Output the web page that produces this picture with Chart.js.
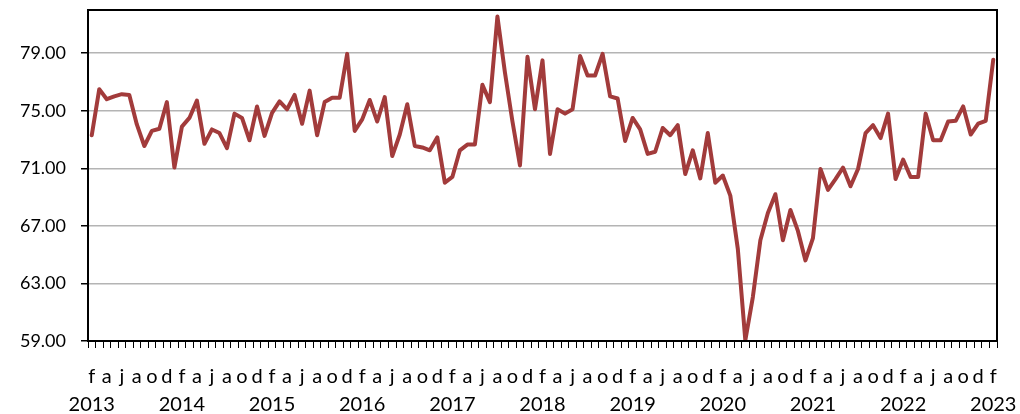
<!DOCTYPE html>
<html>
<head>
<meta charset="utf-8">
<script src="https://cdn.jsdelivr.net/npm/chart.js@4"></script>
<style>
  html, body { margin: 0; padding: 0; background: #fff; }
  #wrap { width: 1020px; height: 414px; }
</style>
</head>
<body>
<div id="wrap"><canvas id="chart" width="1020" height="414"></canvas></div>
<script>
'use strict';

// ---------- data ----------
// monthly series, Feb 2013 .. Feb 2023
const years = [2013, 2014, 2015, 2016, 2017, 2018, 2019, 2020, 2021, 2022, 2023];
const monthInitials = ['j', 'f', 'm', 'a', 'm', 'j', 'j', 'a', 's', 'o', 'n', 'd'];
const labelledMonths = [1, 3, 5, 7, 9, 11]; // f a j a o d
const firstMonth = 1;

const values = [
  73.3, 76.5, 75.8, 76.0, 76.15, 76.1, 74.05, 72.55, 73.6, 73.75, 75.6, 71.05,
  73.9, 74.5, 75.7, 72.7, 73.7, 73.45, 72.4, 74.8, 74.5, 72.95, 75.3, 73.25,
  74.85, 75.65, 75.1, 76.1, 74.1, 76.4, 73.3, 75.6, 75.9, 75.9, 78.95, 73.6,
  74.4, 75.75, 74.25, 75.95, 71.85, 73.35, 75.45, 72.55, 72.45, 72.25, 73.15, 70.0,
  70.4, 72.25, 72.65, 72.65, 76.8, 75.6, 81.55, 77.65, 74.25, 71.2, 78.75, 75.1,
  78.5, 72.0, 75.1, 74.8, 75.1, 78.8, 77.45, 77.45, 78.95, 76.0, 75.85, 72.9,
  74.5, 73.7, 72.0, 72.15, 73.8, 73.3, 74.0, 70.6, 72.25, 70.3, 73.45, 70.0,
  70.5, 69.1, 65.4, 59.05, 62.05, 66.0, 67.9, 69.2, 66.0, 68.1, 66.65, 64.6,
  66.15, 70.95, 69.5, 70.25, 71.05, 69.75, 70.95, 73.45, 74.0, 73.1, 74.8, 70.25,
  71.6, 70.4, 70.4, 74.8, 72.95, 72.95, 74.25, 74.3, 75.3, 73.35, 74.1, 74.3,
  78.55,
];

const yTicks = [59, 63, 67, 71, 75, 79];
const yMin = 59;
const yMax = 82;

// ---------- categories ----------
const labels = values.map((_, i) => {
  const m = (firstMonth + i) % 12;
  const y = years[0] + Math.floor((firstMonth + i) / 12);
  if (!labelledMonths.includes(m)) return '';
  return m === 1 ? [monthInitials[m], String(y)] : monthInitials[m];
});

// ---------- plot-area frame ----------
const frame = {
  id: 'frame',
  afterDraw(chart) {
    const { ctx, chartArea: a } = chart;
    ctx.save();
    ctx.strokeStyle = '#000';
    ctx.lineWidth = 2;
    ctx.strokeRect(a.left, a.top, a.right - a.left, a.bottom - a.top);
    ctx.restore();
  },
};

const FONT = 'Lato, "Open Sans", sans-serif';

new Chart(document.getElementById('chart').getContext('2d'), {
  type: 'line',
  data: {
    labels,
    datasets: [{
      data: values,
      borderColor: '#a23b3b',
      borderWidth: 4,
      pointRadius: 0,
      tension: 0,
      borderJoinStyle: 'round',
      borderCapStyle: 'round',
    }],
  },
  options: {
    responsive: false,
    animation: false,
    events: [],
    layout: { padding: { left: 0, right: 23, top: 10, bottom: 0 } },
    plugins: { legend: { display: false }, tooltip: { enabled: false } },
    scales: {
      x: {
        offset: true,
        grid: { drawOnChartArea: false, drawTicks: true, tickLength: 7, color: '#000', offset: true },
        border: { color: '#000', width: 2 },
        ticks: {
          autoSkip: false, maxRotation: 0, padding: 15, color: '#000',
          font: { family: FONT, size: 20, lineHeight: 1.4 },
        },
        afterFit: (s) => { s.height = 73; s.paddingLeft = 0; s.paddingRight = 0; },
      },
      y: {
        min: yMin, max: yMax,
        afterBuildTicks: (s) => { s.ticks = yTicks.map((v) => ({ value: v })); },
        grid: { color: '#b4b4b4', lineWidth: 1.5, tickLength: 7, tickColor: '#000' },
        border: { color: '#000', width: 2 },
        ticks: {
          color: '#000', padding: 15,
          font: { family: FONT, size: 18 },
          callback: (v) => Number(v).toFixed(2),
        },
        afterFit: (s) => { s.width = 88; s.paddingTop = 0; s.paddingBottom = 0; },
      },
    },
  },
  plugins: [frame],
});
</script>
</body>
</html>
